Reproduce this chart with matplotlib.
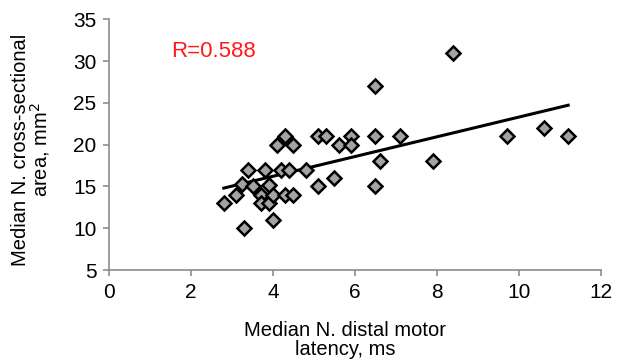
import numpy as np
import matplotlib
matplotlib.use("Agg")
import matplotlib.pyplot as plt

plt.rcParams['font.family'] = ['Liberation Sans', 'DejaVu Sans']

# latency (ms) vs cross-sectional area (mm2)
latency = [2.8, 3.1, 3.25, 3.4, 3.3, 3.5, 3.7, 3.7, 3.8, 3.9, 3.9, 4.0, 4.0,
           4.1, 4.3, 4.5, 4.2, 4.4, 4.3, 4.5, 4.8, 5.1, 5.3, 5.1, 5.5, 5.6,
           5.9, 5.9, 6.5, 6.5, 6.6, 6.5, 7.1, 7.9, 8.4, 9.7, 10.6, 11.2]
area = [13, 14, 15.3, 17, 10, 15, 14, 13, 17, 15.2, 13, 14, 11,
        20, 21, 20, 17, 17, 14, 14, 17, 21, 21, 15, 16, 20,
        21, 20, 27, 21, 18, 15, 21, 18, 31, 21, 22, 21]
# linear trendline as drawn in the figure
trend_slope = 1.18
trend_intercept = 11.5
r_text = "R=0.588"

x = np.array(latency)
y = np.array(area)

fig = plt.figure(figsize=(6.17, 3.63), dpi=100)
ax = fig.add_axes([0.1767, 0.256, 0.7973, 0.691])

xs = np.array([x.min(), x.max()])
ax.plot(xs, trend_slope * xs + trend_intercept, color='black', lw=2.2, zorder=2)
ax.plot(x, y, ls='none', marker='D', ms=7.2, mfc='#a3a3a3', mec='black',
        mew=1.8, zorder=3)

ax.text(2.56, 31.2, r_text, color='#ff1a1a', fontsize=16, ha='center', va='center')

ax.set_xlim(0, 12)
ax.set_ylim(5, 35)
ax.set_xticks(range(0, 13, 2))
ax.set_yticks(range(5, 36, 5))
for side in ['top', 'right']:
    ax.spines[side].set_visible(False)
for side in ['left', 'bottom']:
    ax.spines[side].set_color('#8c8c8c')
    ax.spines[side].set_linewidth(1.2)
ax.tick_params(direction='out', length=4, width=1.2, color='#8c8c8c',
               labelsize=15, labelcolor='black', pad=5)

ax.set_xlabel("Median N. distal motor\nlatency, ms", fontsize=14.5,
              linespacing=0.95, va='top')
ax.xaxis.set_label_coords(0.48, -0.205)
ax.set_ylabel("Median N. cross-sectional\narea, mm$^2$", fontsize=14.5,
              linespacing=0.95)
ax.yaxis.set_label_coords(-0.115, 0.48)

fig.savefig("out.png", dpi=100)
